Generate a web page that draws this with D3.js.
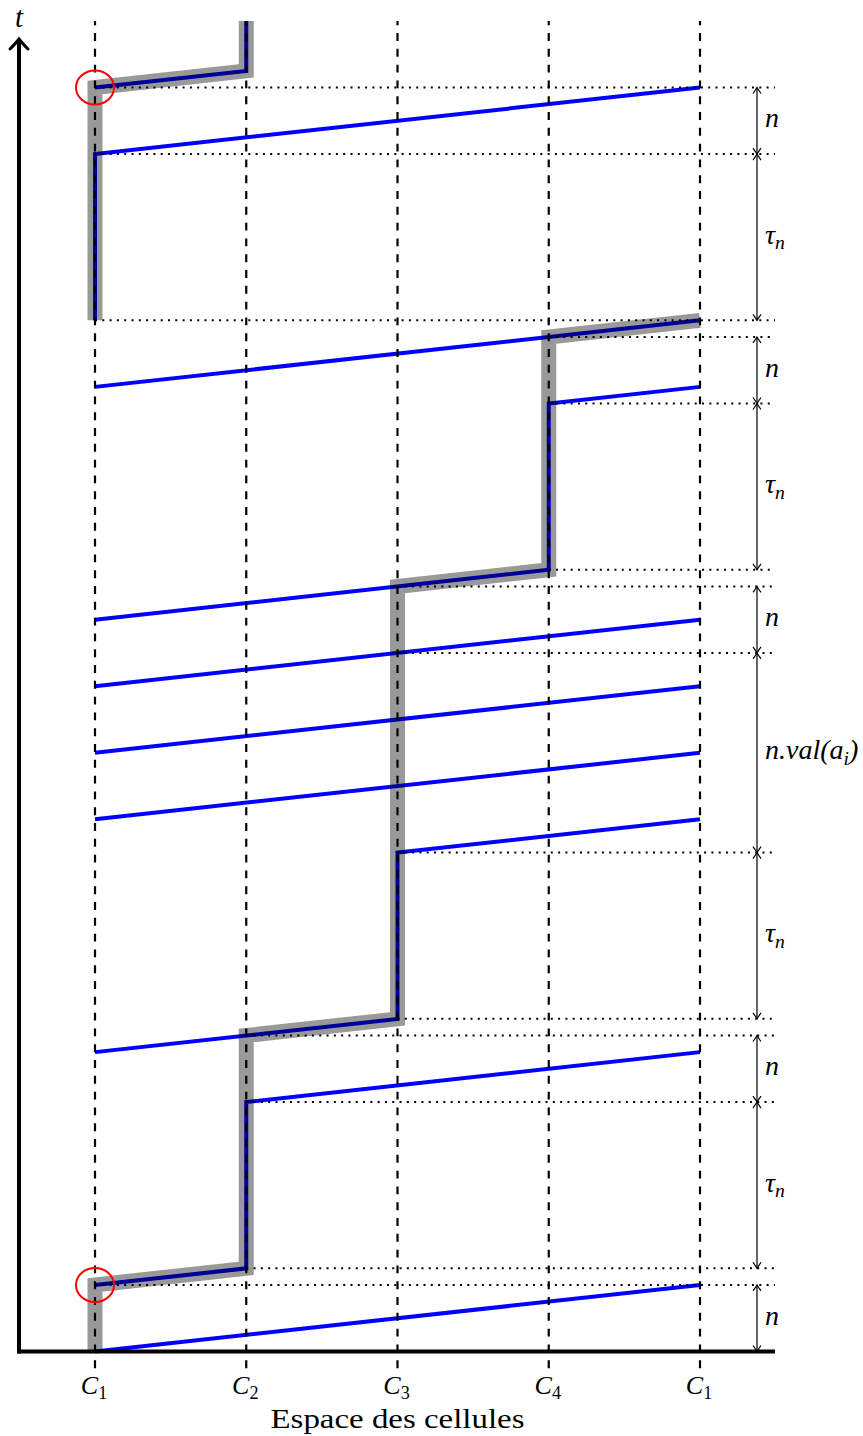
<!DOCTYPE html>
<html><head><meta charset="utf-8">
<script src="https://cdn.jsdelivr.net/npm/d3@7"></script>
<style>body{margin:0;background:#fff} svg{display:block}</style>
</head><body>
<script>
// ---------- data ----------
const cellLabels = ["C_1", "C_2", "C_3", "C_4", "C_1"];
const cellIndex = [0, 1, 2, 3, 4];
const tTop = 80;
const tBottom = -1;

// signal trajectories: [cell, time]
const signal1 = [[0, 0], [4, 4]];
const signal2 = [[0, 4], [1, 5], [1, 15], [4, 18]];
const signal3 = [[0, 18], [2, 20], [2, 30], [4, 32]];
const signal4 = [[0, 32], [4, 36]];
const signal5 = [[0, 36], [4, 40]];
const signal6 = [[0, 40], [4, 44]];
const signal7 = [[0, 44], [3, 47], [3, 57], [4, 58]];
const signal8 = [[0, 58], [4, 62]];
const signal9 = [[0, 62], [0, 72], [4, 76]];
const signal10 = [[0, 76], [1, 77], [1, 80]];
const signals = [signal1, signal2, signal3, signal4, signal5, signal6, signal7, signal8, signal9, signal10];

// highlighted (grey) path
const highlightA = [[0, 0], [0, 4], [1, 5], [1, 19], [2, 20], [2, 46], [3, 47], [3, 61], [4, 62]];
const highlightB = [[0, 62], [0, 76], [1, 77], [1, 80]];

// dotted guides: start cell and time
const guideCells = [0, 1, 1, 1, 2, 2, 2, 2, 3, 3, 3, 0, 0, 0];
const guideTimes = [4, 5, 15, 19, 20, 30, 42, 46, 47, 57, 61, 62, 72, 76];

// duration spans on the right
const spanStarts = [0, 5, 15, 20, 30, 42, 47, 57, 62, 72];
const spanEnds = [4, 15, 19, 30, 42, 46, 57, 61, 72, 76];
const spanLabels = ["n", "τ_n", "n", "τ_n", "n.val(a_i)", "n", "τ_n", "n", "τ_n", "n"];

// red circles: [cell, time]
const circleMarks = [[0, 4], [0, 76]];

// ---------- drawing ----------
const W = 863, H = 1436;
const svg = d3.select("body").append("svg").attr("width", W).attr("height", H);
const x = d3.scaleLinear().domain([0, 4]).range([95, 700]);
const y = d3.scaleLinear().domain([0, 76]).range([1351.5, 87.5]);
const xAxisLeft = 19, xAxisRight = 775, annX = 757;
const mathFont = "'Liberation Serif', 'DejaVu Serif', serif";

const line = d3.line().x(d => x(d[0])).y(d => y(d[1]));

// blue signals
svg.append("g").selectAll("path").data(signals).join("path")
  .attr("d", line).attr("fill", "none").attr("stroke", "#0000ff")
  .attr("stroke-width", 4).attr("stroke-linejoin", "miter");

// dashed cell lines
svg.append("g").selectAll("line").data(cellIndex).join("line")
  .attr("x1", d => x(d)).attr("x2", d => x(d))
  .attr("y1", y(tBottom)).attr("y2", y(tTop))
  .attr("stroke", "#000").attr("stroke-width", 2.2)
  .attr("stroke-dasharray", "7.9,7.9");

// dotted guides
svg.append("g").selectAll("line").data(guideTimes).join("line")
  .attr("x1", (d, i) => x(guideCells[i])).attr("x2", xAxisRight)
  .attr("y1", d => y(d)).attr("y2", d => y(d))
  .attr("stroke", "#000").attr("stroke-width", 2)
  .attr("stroke-dasharray", "2,5.3");

// grey highlight on top (transparent black)
svg.append("g").selectAll("path").data([highlightA, highlightB]).join("path")
  .attr("d", line).attr("fill", "none").attr("stroke", "#000")
  .attr("stroke-opacity", 0.4).attr("stroke-width", 15)
  .attr("stroke-linejoin", "miter").attr("stroke-miterlimit", 10);

// red circles
svg.append("g").selectAll("ellipse").data(circleMarks).join("ellipse")
  .attr("cx", d => x(d[0])).attr("cy", d => y(d[1]))
  .attr("rx", 19).attr("ry", 17)
  .attr("fill", "none").attr("stroke", "#ff0000").attr("stroke-width", 2);

// axes
svg.append("line").attr("x1", xAxisLeft - 2).attr("x2", xAxisRight)
  .attr("y1", y(0)).attr("y2", y(0)).attr("stroke", "#000").attr("stroke-width", 4);
svg.append("line").attr("x1", xAxisLeft).attr("x2", xAxisLeft)
  .attr("y1", y(0) + 2).attr("y2", 40).attr("stroke", "#000").attr("stroke-width", 4);
svg.append("path")
  .attr("d", `M${xAxisLeft - 9},${49} Q${xAxisLeft - 3},${43} ${xAxisLeft},${39} Q${xAxisLeft + 3},${43} ${xAxisLeft + 9},${49}`)
  .attr("fill", "none").attr("stroke", "#000").attr("stroke-width", 3).attr("stroke-linecap", "round");

svg.append("text").attr("x", xAxisLeft).attr("y", 27).attr("text-anchor", "middle")
  .attr("font-family", mathFont).attr("font-style", "italic").attr("font-size", 29).text("t");

// rich text helper: "a_b" -> a with subscript b
function richText(sel, str, size) {
  const parts = str.split(/_(\w)/);
  parts.forEach((p, i) => {
    if (p === "") return;
    const sub = i % 2 === 1;
    const ts = sel.append("tspan").text(p);
    if (sub) {
      ts.attr("font-size", size * 0.7).attr("dy", size * 0.2).attr("font-style", /\d/.test(p) ? "normal" : "italic");
    } else if (i > 1) {
      ts.attr("dy", -size * 0.2);
    }
  });
}

// cell tick labels
const tickG = svg.append("g");
cellIndex.forEach((c, i) => {
  const t = tickG.append("text").attr("x", x(c) - 1).attr("y", 1394)
    .attr("text-anchor", "middle").attr("font-family", mathFont)
    .attr("font-style", "italic").attr("font-size", 26);
  richText(t, cellLabels[i], 26);
});

svg.append("text").attr("x", x(2)).attr("y", 1428).attr("text-anchor", "middle")
  .attr("font-family", mathFont).attr("font-size", 27)
  .attr("textLength", 254).attr("lengthAdjust", "spacingAndGlyphs")
  .text("Espace des cellules");

// duration spans
const annG = svg.append("g");
function chevron(cx, cy, dir) {
  // dir = -1 pointing up, +1 pointing down
  const l = 6 * -dir, w = 4;
  return `M${cx - w},${cy + l} Q${cx - 1},${cy + l * 0.3} ${cx},${cy} Q${cx + 1},${cy + l * 0.3} ${cx + w},${cy + l}`;
}
spanStarts.forEach((s, i) => {
  const e = spanEnds[i];
  annG.append("line").attr("x1", annX).attr("x2", annX)
    .attr("y1", y(s)).attr("y2", y(e)).attr("stroke", "#000").attr("stroke-width", 1.2);
  annG.append("path").attr("d", chevron(annX, y(s), 1)).attr("fill", "none").attr("stroke", "#000").attr("stroke-width", 1.2);
  annG.append("path").attr("d", chevron(annX, y(e), -1)).attr("fill", "none").attr("stroke", "#000").attr("stroke-width", 1.2);
  const t = annG.append("text").attr("x", annX + 8).attr("y", (y(s) + y(e)) / 2 + 6.5)
    .attr("font-family", mathFont).attr("font-style", "italic").attr("font-size", 28);
  richText(t, spanLabels[i], 28);
});
</script>
</body></html>
